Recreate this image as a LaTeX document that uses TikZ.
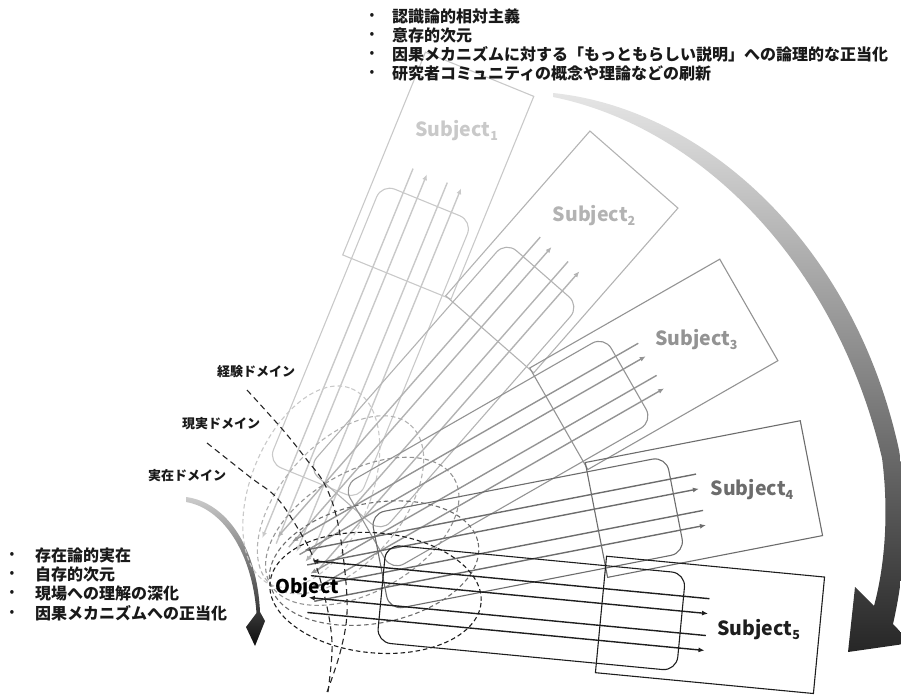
\documentclass[tikz,border=0pt]{standalone}
\usepackage{fontspec}
\setmainfont{Noto Sans CJK JP}
\usetikzlibrary{arrows.meta}
\definecolor{cA}{HTML}{C9C9C9}
\definecolor{cB}{HTML}{B3B3B3}
\definecolor{cC}{HTML}{939393}
\definecolor{cD}{HTML}{6C6C6C}
\definecolor{cE}{HTML}{1E1E1E}
\newcommand\subjgroup[3]{%
\begin{scope}[shift={(272,583)}, rotate=#1, color=#2]
  \draw[sell] (104,0) ellipse [x radius=106, y radius=60];
  \draw[sbox, rounded corners=14pt] (110,-49) -- (411,-49) -- (411,49) -- (110,49) -- cycle;
  \draw[sbox] (330.5,-58.5) -- (549.5,-58.5) -- (549.5,58.5) -- (330.5,58.5) -- cycle;
  \coordinate (n#3a) at (38,-26); \coordinate (f#3a) at (437,-26);
  \coordinate (n#3b) at (38,-11); \coordinate (f#3b) at (437,-11);
  \coordinate (n#3c) at (38,11);  \coordinate (f#3c) at (437,11);
  \coordinate (n#3d) at (38,26);  \coordinate (f#3d) at (437,26);
  \draw[sline, rarrow] (n#3a) -- (f#3a);
  \draw[sline, sarrow] (n#3b) -- (f#3b);
  \draw[sline, rarrow] (n#3c) -- (f#3c);
  \draw[sline, sarrow] (n#3d) -- (f#3d);
  \node[slabel] (subj#3) at (489,0) {Subject\raisebox{-4pt}{\fontsize{12.5}{12}\selectfont #3}};
\end{scope}}
\begin{document}
\begin{tikzpicture}[x=1pt,y=-1pt,
  sline/.style={line width=1.4pt},
  sbox/.style={line width=1.1pt},
  sell/.style={line width=1.1pt, dash pattern=on 4.5pt off 3pt},
  domline/.style={line width=1.1pt, dash pattern=on 6pt off 4pt, black!85},
  sarrow/.style={-{Latex[length=6pt,width=5pt]}},
  rarrow/.style={{Latex[length=6pt,width=5pt]}-},
  slabel/.style={font=\fontsize{19.5}{22}\selectfont\bfseries, inner sep=0pt},
  jtext/.style={font=\fontsize{16}{18}\selectfont\bfseries, anchor=west, inner sep=0pt, text=black!90},
  dtext/.style={font=\fontsize{13}{15}\selectfont\bfseries, inner sep=0pt, text=black!90},
  bul/.style={font=\fontsize{14}{16}\selectfont, inner sep=0pt, text=black!90}]
\useasboundingbox (0,0) rectangle (901,695);
% big arc arrow
\shade[top color=black!10, middle color=black!33, bottom color=black!85]
  (553,93) .. controls (702,108) and (854,242) .. (899,450)
  .. controls (909,510) and (905,572) .. (893,624)
  -- (911,643) -- (848,652) -- (855,587) -- (874,606)
  .. controls (885,565) and (889,512) .. (882,458)
  .. controls (835,259) and (697,126) .. (553,97) -- cycle;
% small left swoosh
\shade[top color=black!20, bottom color=black!95]
  (186,497) .. controls (225,502) and (257,545) .. (260,612)
  -- (265,621) -- (255,646) -- (246,627) -- (256.5,613)
  .. controls (252,551) and (222,508) .. (186,502) -- cycle;
% subject groups
\subjgroup{67.8}{cA}{1}
\subjgroup{48.8}{cB}{2}
\subjgroup{29.8}{cC}{3}
\subjgroup{11}{cD}{4}
\subjgroup{-5.46}{cE}{5}
% domain curves
\draw[domline] plot[smooth, tension=0.6] coordinates {(247,390) (283,430) (307,460) (324,483) (336,515) (344,563) (347,613) (340,653) (327,692)};
\draw[domline] plot[smooth, tension=0.6] coordinates {(207,443) (250,477) (277,498) (300,532) (313,557) (323,590) (330,623) (332,652) (328,692)};
\node[dtext] (dkeiken) at (256,372) {経験ドメイン};
\node[dtext] (dgenjitsu) at (221,424) {現実ドメイン};
\node[dtext] (djitsuzai) at (187,476) {実在ドメイン};
% object
\node[font=\fontsize{19}{22}\selectfont\bfseries, inner sep=0pt, anchor=base] (obj) at (307,593) {Object};
% top list
\node[bul] (tb1) at (372,16) {•}; \node[jtext] (t1) at (392,16) {認識論的相対主義};
\node[bul] (tb2) at (372,35) {•}; \node[jtext] (t2) at (392,35) {意存的次元};
\node[bul] (tb3) at (372,54) {•}; \node[jtext] (t3) at (392,54) {因果メカニズムに対する「もっともらしい説明」への論理的な正当化};
\node[bul] (tb4) at (372,73) {•}; \node[jtext] (t4) at (392,73) {研究者コミュニティの概念や理論などの刷新};
% left list
\node[bul] (lb1) at (12,555) {•}; \node[jtext] (l1) at (35,555) {存在論的実在};
\node[bul] (lb2) at (12,574) {•}; \node[jtext] (l2) at (35,574) {自存的次元};
\node[bul] (lb3) at (12,593) {•}; \node[jtext] (l3) at (35,593) {現場への理解の深化};
\node[bul] (lb4) at (12,613) {•}; \node[jtext] (l4) at (35,613) {因果メカニズムへの正当化};
\end{tikzpicture}
\end{document}
